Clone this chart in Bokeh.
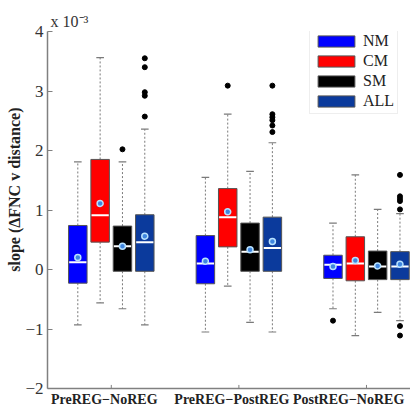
import numpy as np
from bokeh.plotting import figure
from bokeh.models import Range1d, FixedTicker, Legend, LegendItem, Title
from bokeh.embed import file_html
from bokeh.resources import INLINE

# ---- data (units of 1e-3) ----
groups = ["PreREG\u2212NoREG", "PreREG\u2212PostREG", "PostREG\u2212NoREG"]
series = ["NM", "CM", "SM", "ALL"]
colors = ["#0000FF", "#FF0000", "#000000", "#0B3A9C"]

q3 = {"NM": [0.74, 0.57, 0.24], "CM": [1.85, 1.36, 0.55], "SM": [0.73, 0.78, 0.31], "ALL": [0.92, 0.88, 0.30]}
q1 = {"NM": [-0.23, -0.24, -0.15], "CM": [0.46, 0.38, -0.19], "SM": [-0.03, -0.03, -0.17], "ALL": [-0.03, -0.03, -0.17]}
med = {"NM": [0.12, 0.10, 0.08], "CM": [0.91, 0.88, 0.10], "SM": [0.39, 0.30, 0.05], "ALL": [0.46, 0.36, 0.05]}
mean = {"NM": [0.20, 0.14, 0.05], "CM": [1.11, 0.97, 0.15], "SM": [0.39, 0.33, 0.06], "ALL": [0.56, 0.47, 0.09]}
wlo = {"NM": [-0.93, -1.05, -0.66], "CM": [-0.56, -0.28, -1.11], "SM": [-0.66, -0.89, -0.72], "ALL": [-0.93, -1.05, -0.86]}
whi = {"NM": [1.81, 1.55, 0.78], "CM": [3.56, 2.61, 1.59], "SM": [1.81, 1.65, 1.01], "ALL": [2.36, 2.13, 0.94]}

out_group = [0, 0, 0, 0, 0, 0, 1, 1, 1, 1, 1, 1, 1, 2, 2, 2, 2, 2, 2, 2, 2]
out_series = ["SM", "ALL", "ALL", "ALL", "ALL", "ALL", "CM", "ALL", "ALL", "ALL", "ALL", "ALL", "ALL",
              "NM", "ALL", "ALL", "ALL", "ALL", "ALL", "ALL", "ALL"]
out_value = [2.02, 3.55, 3.40, 2.98, 2.92, 2.57, 3.09, 3.09, 2.61, 2.56, 2.51, 2.42, 2.31,
             -0.86, 1.59, 1.23, 1.19, 1.15, 1.01, -0.95, -1.11]

yticks = [-2, -1, 0, 1, 2, 3, 4]

# ---- layout ----
gpos = np.array([1.0, 2.0, 3.0])
label_pos = gpos + np.array([-0.055, -0.055, -0.14])
step = 0.175
bw = 0.145
offs = {s: (i - 1.5) * step for i, s in enumerate(series)}

p = figure(width=410, height=409, output_backend="svg", toolbar_location=None,
           x_range=Range1d(0.5, 3.345), y_range=Range1d(-2, 4),
           min_border_left=47, min_border_right=0, min_border_top=31, min_border_bottom=16)
p.outline_line_color = None
p.xgrid.grid_line_color = None
p.ygrid.grid_line_color = None
p.background_fill_color = "white"

wc = "#7a7a7a"
items = []
for s, c in zip(series, colors):
    x = gpos + offs[s]
    p.segment(x0=x, y0=q3[s], x1=x, y1=whi[s], line_color=wc, line_dash="2 2", line_width=1)
    p.segment(x0=x, y0=q1[s], x1=x, y1=wlo[s], line_color=wc, line_dash="2 2", line_width=1)
    p.segment(x0=x - 0.03, y0=whi[s], x1=x + 0.03, y1=whi[s], line_color=wc, line_width=1.2)
    p.segment(x0=x - 0.03, y0=wlo[s], x1=x + 0.03, y1=wlo[s], line_color=wc, line_width=1.2)
    r = p.vbar(x=x, width=bw, top=q3[s], bottom=q1[s], fill_color=c, line_color="#555555", line_width=1)
    items.append(LegendItem(label=s, renderers=[r]))
    p.segment(x0=x - bw / 2 + 0.005, y0=med[s], x1=x + bw / 2 - 0.005, y1=med[s], line_color="white", line_width=2)
    p.scatter(x=x, y=mean[s], size=6, fill_color="#3F86E0", line_color="#B8E2FF", line_width=1.5)

ox = [gpos[g] + offs[s] for g, s in zip(out_group, out_series)]
p.scatter(x=ox, y=out_value, size=5, fill_color="black", line_color="black")

# x tick marks at group centres (inward)
ax_col = "#808080"
p.segment(x0=gpos, y0=[-2] * 3, x1=gpos, y1=[-1.94] * 3, line_color=ax_col, line_width=1)

# axes
p.yaxis.ticker = FixedTicker(ticks=yticks)
p.yaxis.major_label_overrides = {t: (str(t) if t >= 0 else "\u2212" + str(-t)) for t in yticks}
p.yaxis.major_label_text_font = "Liberation Serif"
p.yaxis.major_label_text_font_size = "17px"
p.yaxis.major_label_text_color = "#333333"
p.yaxis.major_label_standoff = 4
p.yaxis.axis_line_color = ax_col
p.yaxis.axis_line_width = 1.5
p.yaxis.major_tick_line_color = ax_col
p.yaxis.major_tick_in = 5
p.yaxis.major_tick_out = 0
p.yaxis.minor_tick_line_color = None

p.xaxis.ticker = FixedTicker(ticks=[float(v) for v in label_pos])
p.xaxis.major_label_overrides = {float(v): g for v, g in zip(label_pos, groups)}
p.xaxis.major_label_text_font = "Liberation Serif"
p.xaxis.major_label_text_font_style = "bold"
p.xaxis.major_label_text_font_size = "14px"
p.xaxis.major_label_text_color = "#222222"
p.xaxis.major_label_standoff = 3
p.xaxis.axis_line_color = ax_col
p.xaxis.axis_line_width = 1.5
p.xaxis.major_tick_line_color = None
p.xaxis.major_tick_in = 0
p.xaxis.major_tick_out = 0
p.xaxis.minor_tick_line_color = None

# y label and multiplier as titles (outside the frame)
p.add_layout(Title(text="slope (\u0394FNC v distance)", align="right", offset=76, standoff=0,
                   text_font="Liberation Serif", text_font_style="bold", text_font_size="16px",
                   text_color="#222222"), "left")
p.add_layout(Title(text="x 10\u207b\u00b3", align="left", offset=3, standoff=3,
                   text_font="Liberation Serif", text_font_style="normal", text_font_size="16px",
                   text_color="#333333"), "above")

legend = Legend(items=items, location=(262, 274))
legend.label_text_font = "Liberation Serif"
legend.label_text_font_size = "16px"
legend.label_text_color = "#222222"
legend.glyph_width = 46
legend.glyph_height = 14
legend.label_height = 14
legend.label_standoff = 4
legend.spacing = 2
legend.padding = 3
legend.margin = 0
legend.border_line_color = "#DDDDDD"
legend.background_fill_color = "white"
legend.background_fill_alpha = 1.0
p.add_layout(legend)

open("out.html", "w").write(file_html(p, INLINE))
